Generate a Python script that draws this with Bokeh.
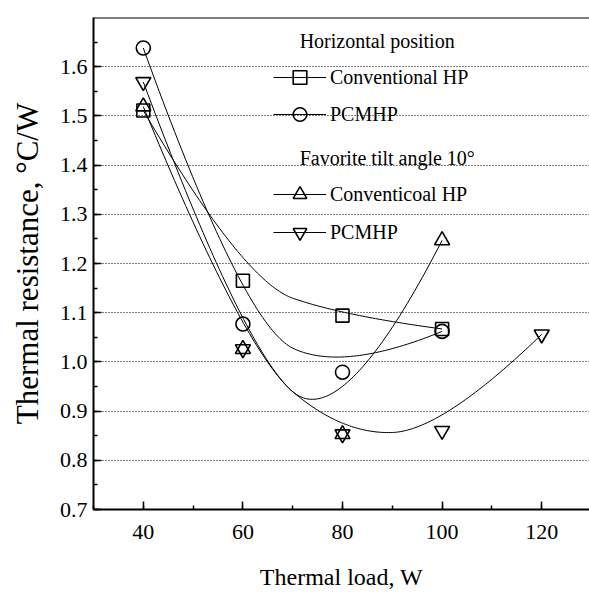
import numpy as np
from bokeh.plotting import figure
from bokeh.models import (Legend, LegendItem, Label, Span,
                          SingleIntervalTicker, NumeralTickFormatter)
from bokeh.embed import file_html
from bokeh.resources import INLINE

# ---------------- data ----------------
load_h = [40, 60, 80, 100]
conv_h = [1.511, 1.165, 1.094, 1.067]        # Horizontal, Conventional HP
pcm_h = [1.638, 1.077, 0.979, 1.062]         # Horizontal, PCMHP
load_t_conv = [40, 60, 80, 100]
conv_t = [1.519, 1.026, 0.853, 1.247]        # Tilt 10, Conventicoal HP
load_t_pcm = [40, 60, 80, 100, 120]
pcm_t = [1.569, 1.026, 0.853, 0.860, 1.056]  # Tilt 10, PCMHP

FONT = "Liberation Serif"


def bspline_quadratic(xs, ys, n=50):
    """Quadratic clamped uniform B-spline using the data points as control points."""
    P = np.column_stack([xs, ys]).astype(float)
    m = len(P)
    out = []
    start = P[0]
    s = np.linspace(0, 1, n)[:, None]
    for i in range(1, m - 1):
        ctrl = P[i]
        end = P[i + 1] if i == m - 2 else (P[i] + P[i + 1]) / 2
        seg = (1 - s) ** 2 * start + 2 * s * (1 - s) * ctrl + s ** 2 * end
        out.append(seg if i == 1 else seg[1:])
        start = end
    arr = np.vstack(out)
    return arr[:, 0], arr[:, 1]


p = figure(width=589, height=594, x_range=(30, 129.6), y_range=(0.7, 1.7),
           output_backend="svg", toolbar_location=None,
           min_border_left=93, min_border_right=0, min_border_top=17,
           min_border_bottom=85)
p.outline_line_color = None
p.background_fill_color = "white"
p.xgrid.grid_line_color = None
p.ygrid.grid_line_color = "black"
p.ygrid.grid_line_dash = "1 2"
p.ygrid.grid_line_width = 1

# axes
xa = p.xaxis[0]
xa.ticker = SingleIntervalTicker(interval=20, num_minor_ticks=2)
ya = p.yaxis[0]
ya.ticker = SingleIntervalTicker(interval=0.1, num_minor_ticks=2)
ya.formatter = NumeralTickFormatter(format="0.0")
for ax in (xa, ya):
    ax.axis_line_width = 2
    ax.axis_line_color = "black"
    ax.major_tick_in = 8
    ax.major_tick_out = 0
    ax.minor_tick_in = 4
    ax.minor_tick_out = 0
    ax.major_tick_line_width = 1.5
    ax.minor_tick_line_width = 1.5
    ax.major_tick_line_color = "black"
    ax.minor_tick_line_color = "black"
    ax.major_label_text_font = FONT
    ax.major_label_text_font_size = "22px"
    ax.major_label_text_color = "black"
    ax.axis_label_text_font = FONT
    ax.axis_label_text_font_style = "normal"
    ax.axis_label_text_color = "black"
xa.axis_label = "Thermal load, W"
xa.axis_label_text_font_size = "24px"
xa.major_label_standoff = 15
xa.axis_label_standoff = 22
ya.axis_label = "Thermal resistance, \u00b0C/W"
ya.axis_label_text_font_size = "31px"
ya.major_label_standoff = 6
ya.axis_label_standoff = 12

# top frame line
p.add_layout(Span(location=1.7, dimension="width", line_color="black", line_width=2))

# curves + markers
mk = dict(fill_color=None, line_color="black", line_width=1.6)
cx, cy = bspline_quadratic(load_h, conv_h)
l1 = p.line(cx, cy, line_color="black", line_width=1)
s1 = p.scatter(load_h, conv_h, marker="square", size=13, **mk)

cx, cy = bspline_quadratic(load_h, pcm_h)
l2 = p.line(cx, cy, line_color="black", line_width=1)
s2 = p.scatter(load_h, pcm_h, marker="circle", size=14, **mk)

cx, cy = bspline_quadratic(load_t_conv, conv_t)
l3 = p.line(cx, cy, line_color="black", line_width=1)
s3 = p.scatter(load_t_conv, conv_t, marker="triangle", size=15, **mk)

cx, cy = bspline_quadratic(load_t_pcm, pcm_t)
l4 = p.line(cx, cy, line_color="black", line_width=1)
s4 = p.scatter(load_t_pcm, pcm_t, marker="inverted_triangle", size=15, **mk)

leg_style = dict(glyph_width=53, glyph_height=34, label_standoff=4, padding=0,
                 margin=0, border_line_color=None, background_fill_alpha=0,
                 label_text_font=FONT, label_text_font_size="20px",
                 label_text_color="black", label_height=20)
leg1 = Legend(items=[LegendItem(label="Conventional HP", renderers=[l1, s1]),
                     LegendItem(label="PCMHP", renderers=[l2, s2])],
              location=(180, 378), spacing=3, **leg_style)
leg2 = Legend(items=[LegendItem(label="Conventicoal HP", renderers=[l3, s3]),
                     LegendItem(label="PCMHP", renderers=[l4, s4])],
              location=(180, 260), spacing=4, **leg_style)
p.add_layout(leg1, "center")
p.add_layout(leg2, "center")

p.add_layout(Label(x=71.4, y=1.653, text="Horizontal position", text_baseline="middle",
                   text_font=FONT, text_font_size="20px", text_color="black"))
p.add_layout(Label(x=71.4, y=1.414, text="Favorite tilt angle 10\u00b0", text_baseline="middle",
                   text_font=FONT, text_font_size="20px", text_color="black"))

open("out.html", "w").write(file_html(p, INLINE))
